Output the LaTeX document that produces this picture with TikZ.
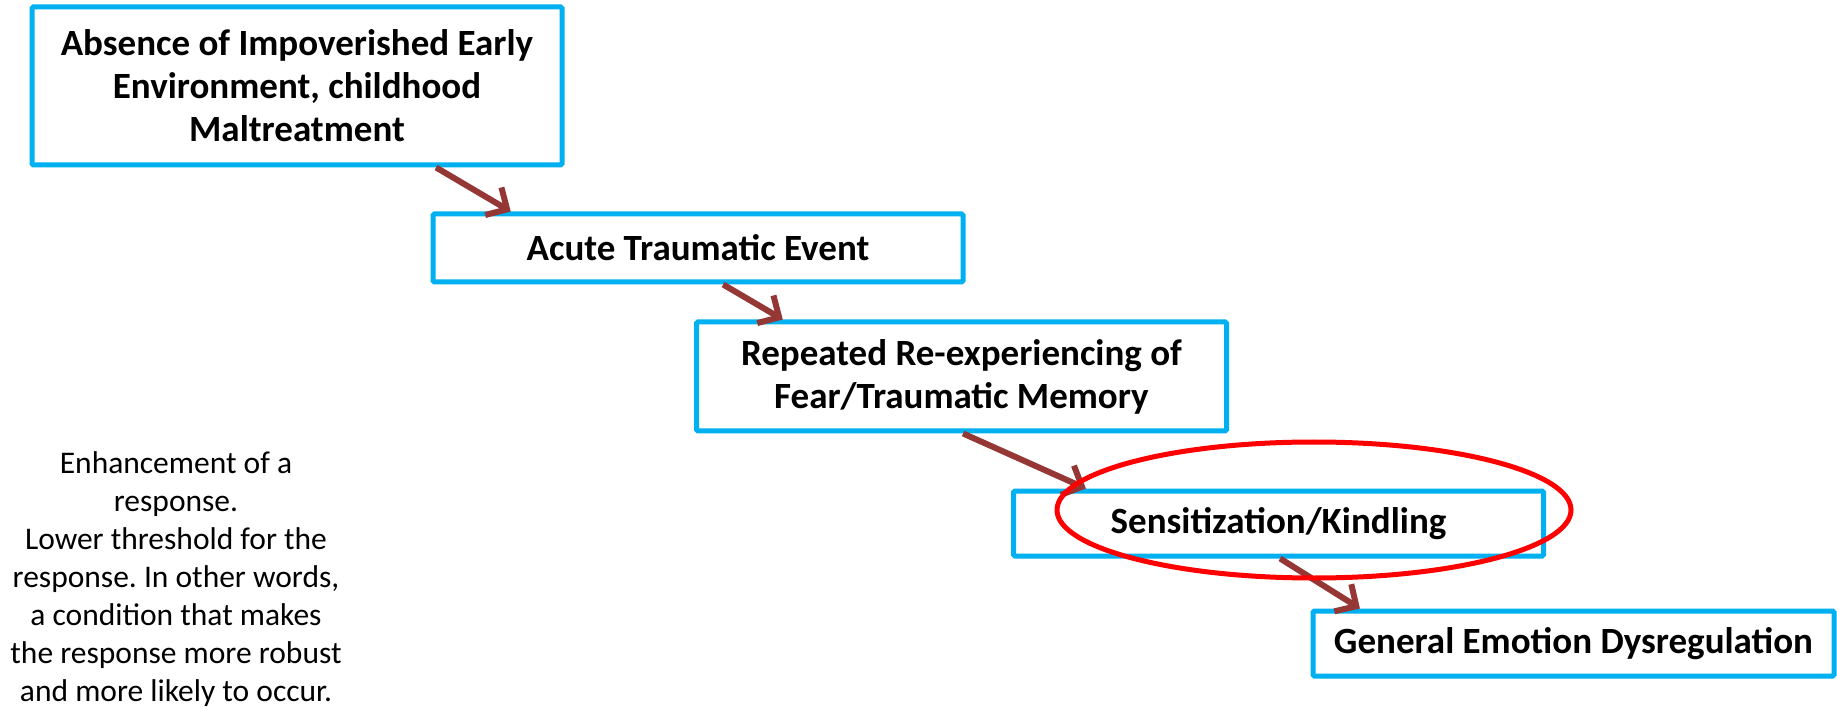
\documentclass[tikz,border=0pt]{standalone}
\usepackage{fontspec}
\setmainfont{Carlito}
\frenchspacing
\usetikzlibrary{arrows.meta,calc}
\definecolor{boxblue}{HTML}{00B0F0}
\definecolor{arrowred}{HTML}{953735}
\begin{document}
\begin{tikzpicture}[x=1pt,y=-1pt]

    \tikzset{
      stage/.style={
        draw=boxblue,
        line width=5pt,
        rounded corners=1.5pt,
        minimum width=530pt,
        inner sep=0pt,
        align=center,
        font=\fontsize{37}{43}\selectfont\bfseries,
      },
      link/.style={
        draw=arrowred,
        line width=6pt,
        -{Straight Barb[length=16pt,width=32pt]},
      },
    }
    \useasboundingbox (0,0) rectangle (1837,708);

	\node[stage, minimum height=158pt] (absence) at (297,86) {Absence of Impoverished Early\\Environment, childhood\\Maltreatment};
	\node[stage, minimum height=68pt] (acute) at (698,248) {Acute Traumatic Event};
	\node[stage, minimum height=109pt] (repeated) at (961.5,376.5) {Repeated Re-experiencing of\\Fear/Traumatic Memory};
	\node[stage, minimum height=65pt] (sensit) at (1278.5,523.5) {Sensitization/Kindling};
	\node[stage, minimum height=65pt, minimum width=521pt] (general) at (1573.5,643.5) {General Emotion Dysregulation};

	\node[align=center, font=\fontsize{31.5}{38}\selectfont] (note) at (176,579) {Enhancement of a\\response.\\Lower threshold for the\\response. In other words,\\a condition that makes\\the response more robust\\and more likely to occur.};

	\draw[link] ($(absence.south west)!0.76!(absence.south east)$) -- ($(acute.north west)!0.15!(acute.north east)$);
	\draw[link] ($(acute.south west)!0.547!(acute.south east)$) -- ($(repeated.north west)!0.166!(repeated.north east)$);
	\draw[link] ($(repeated.south west)!0.503!(repeated.south east)$) -- ($(sensit.north west)!0.14!(sensit.north east)$);
	\draw[link] ($(sensit.south west)!0.503!(sensit.south east)$) -- ($(general.north west)!0.094!(general.north east)$);

	\draw[color=red, line width=5pt] (1314,510) ellipse [x radius=257, y radius=68];

\end{tikzpicture}
\end{document}
